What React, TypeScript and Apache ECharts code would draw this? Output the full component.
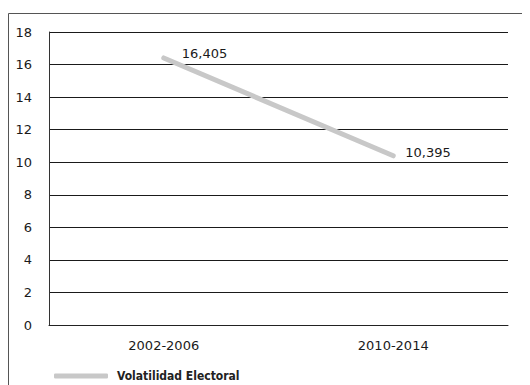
import React, { useEffect, useRef } from "react";
import * as echarts from "echarts";

const periods = ["2002-2006", "2010-2014"];
const volatility = [16.405, 10.395];
const seriesName = "Volatilidad Electoral";
const yMin = 0;
const yMax = 18;
const yStep = 2;

const FONT = "DejaVu Sans";
const LINE_GREY = "#c8c8c8";

export default function App() {
  const ref = useRef<HTMLDivElement>(null);

  useEffect(() => {
    if (!ref.current) return;
    const chart = echarts.init(ref.current, null, { renderer: "svg" });
    const fmt = (v: number) => v.toFixed(3).replace(".", ",");
    chart.setOption({
      animation: false,
      backgroundColor: "#ffffff",
      textStyle: { fontFamily: FONT },
      graphic: [
        {
          type: "rect",
          shape: { x: 0.5, y: 5.5, width: 560, height: 420 },
          style: { fill: "none", stroke: "#555555", lineWidth: 1 },
          silent: true,
          z: -1,
        },
      ],
      grid: { left: 41, right: 22, top: 24, bottom: 60, containLabel: false },
      legend: {
        left: 41,
        top: 357,
        icon: "roundRect",
        itemWidth: 54,
        itemHeight: 5,
        itemGap: 10,
        itemStyle: { color: LINE_GREY, opacity: 1 },
        textStyle: {
          fontFamily: "DejaVu Sans Condensed",
          fontWeight: "bold",
          fontSize: 12,
          color: "#222222",
          padding: [0, 0, 0, 4],
        },
        data: [seriesName],
      },
      xAxis: {
        type: "category",
        data: periods,
        boundaryGap: true,
        axisLine: { show: true, lineStyle: { color: "#222222", width: 1 } },
        axisTick: { show: false },
        axisLabel: { color: "#1a1a1a", fontSize: 13, margin: 14, fontFamily: FONT },
        splitLine: { show: false },
      },
      yAxis: {
        type: "value",
        min: yMin,
        max: yMax,
        interval: yStep,
        axisLine: { show: true, lineStyle: { color: "#333333", width: 1 } },
        axisTick: { show: false },
        axisLabel: { color: "#1a1a1a", fontSize: 13, margin: 17, fontFamily: FONT },
        splitLine: { show: true, lineStyle: { color: "#1a1a1a", width: 1 } },
      },
      series: [
        {
          name: seriesName,
          type: "line",
          data: [
            { value: volatility[0], label: { show: true, offset: [12, -4] } },
            { value: volatility[1], label: { show: true, offset: [6, -3] } },
          ],
          symbol: "circle",
          symbolSize: 2,
          showSymbol: true,
          showAllSymbol: true,
          color: LINE_GREY,
          itemStyle: { color: LINE_GREY },
          lineStyle: { color: LINE_GREY, width: 5, cap: "round" },
          label: {
            show: true,
            position: "right",
            color: "#1a1a1a",
            fontSize: 13,
            fontFamily: FONT,
            formatter: (p: any) => fmt(p.value),
          },
        },
      ],
    });
    return () => chart.dispose();
  }, []);

  return <div ref={ref} style={{ width: 522, height: 377 }} />;
}
